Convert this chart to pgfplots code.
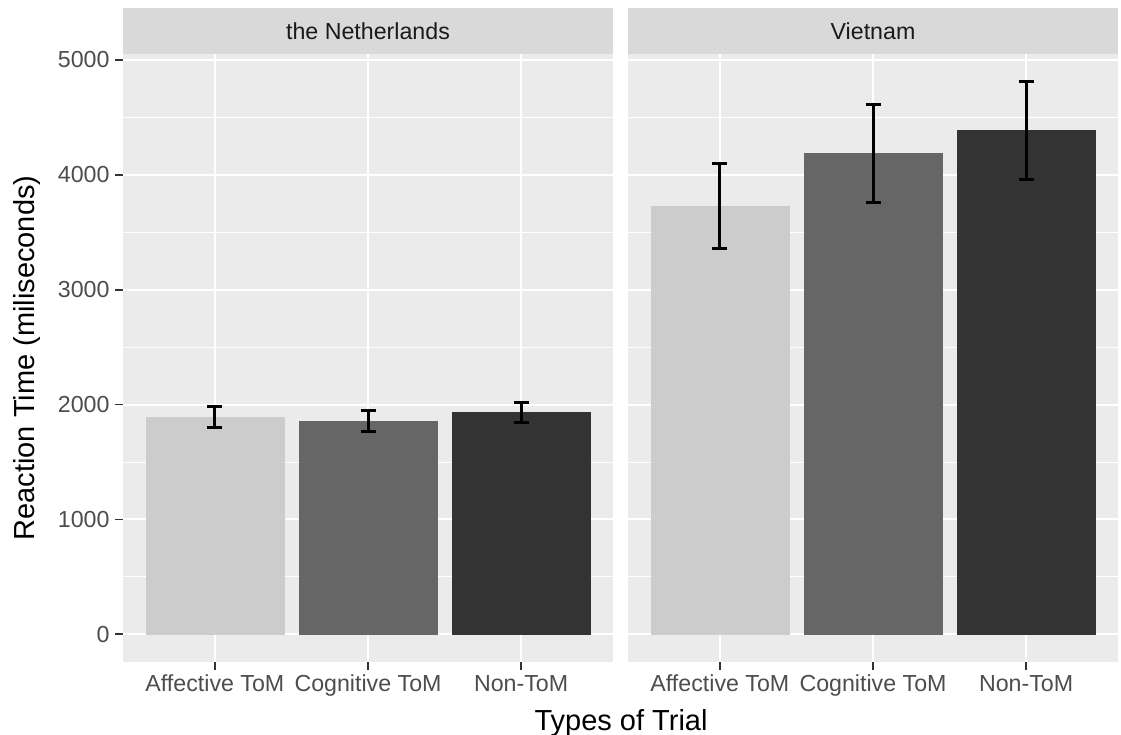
\documentclass[border=0pt]{standalone}
\usepackage{pgfplots}
\pgfplotsset{compat=1.18}
\usepackage{fontspec}
\setmainfont{Liberation Sans}
\definecolor{bgc}{HTML}{EBEBEB}
\definecolor{stripc}{HTML}{D9D9D9}
\definecolor{barA}{HTML}{CCCCCC}
\definecolor{barC}{HTML}{666666}
\definecolor{barN}{HTML}{333333}
\definecolor{labc}{HTML}{4D4D4D}
\definecolor{tickc}{HTML}{333333}
\definecolor{striptxt}{HTML}{1A1A1A}
\begin{document}
\begin{tikzpicture}
\useasboundingbox (0,0) rectangle (1121pt,734pt);
\pgfplotsset{
  facet/.style={
    scale only axis, width=490pt, height=608pt,
    anchor=south west,
    xmin=0.4, xmax=3.6, ymin=-240.6, ymax=5051.6,
    axis background/.style={fill=bgc},
    axis line style={draw=none},
    xtick={1,2,3}, xticklabels={Affective ToM, Cognitive ToM, Non-ToM},
    ytick={0,1000,...,5000},
    minor ytick={500,1500,...,4500},
    xmajorgrids, ymajorgrids, yminorgrids,
    major grid style={white, line width=2pt},
    minor grid style={white, line width=1pt},
    tick align=outside, major tick length=8pt, minor tick length=0pt,
    tick style={color=tickc, line width=1.8pt},
    tick pos=left,
    ticklabel style={font=\fontsize{23.2}{27}\selectfont, text=labc},
    xticklabel style={text height=17pt, text depth=5pt, yshift=-1pt},
    yticklabel style={xshift=-2pt},
    /pgf/number format/assume math mode=true,
    /pgf/number format/1000 sep={},
    ybar, bar width=0.9, bar shift=0pt,
    error bars/y dir=both, error bars/y explicit,
    error bars/error bar style={draw=black, solid, line width=3pt},
    error bars/error mark options={rotate=90, draw=black, solid, line width=3pt, mark size=7.5pt},
  }
}
\begin{axis}[facet, name=ax1, at={(123pt,72pt)}]
\addplot[fill=barA, draw=barA] coordinates {(1,1890) +- (0,93)};
\addplot[fill=barC, draw=barC] coordinates {(2,1856) +- (0,90)};
\addplot[fill=barN, draw=barN] coordinates {(3,1932) +- (0,88)};
\end{axis}
\begin{axis}[facet, name=ax2, at={(628pt,72pt)}, yticklabels={}, ytick style={draw=none}]
\addplot[fill=barA, draw=barA] coordinates {(1,3731) +- (0,371)};
\addplot[fill=barC, draw=barC] coordinates {(2,4186) +- (0,424)};
\addplot[fill=barN, draw=barN] coordinates {(3,4384) +- (0,427)};
\end{axis}
\fill[stripc] (ax1.north west) rectangle ([yshift=46pt]ax1.north east);
\fill[stripc] (ax2.north west) rectangle ([yshift=46pt]ax2.north east);
\node[font=\fontsize{23.2}{27}\selectfont, text=striptxt] at ([yshift=23pt]ax1.north) {the Netherlands};
\node[font=\fontsize{23.2}{27}\selectfont, text=striptxt] at ([yshift=23pt]ax2.north) {Vietnam};
\node[font=\fontsize{29}{34}\selectfont, rotate=90, anchor=center] at (27pt,376pt) {Reaction Time (miliseconds)};
\node[font=\fontsize{29}{34}\selectfont, anchor=base] at (621pt,4pt) {Types of Trial};
\end{tikzpicture}
\end{document}
